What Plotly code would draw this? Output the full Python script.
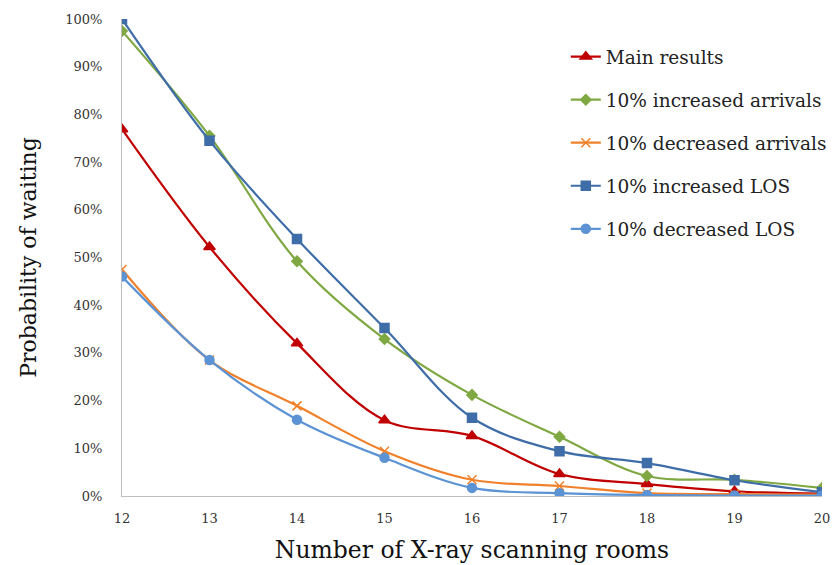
import plotly.graph_objects as go

rooms = [12, 13, 14, 15, 16, 17, 18, 19, 20]
main_results = [0.769, 0.522, 0.320, 0.159, 0.126, 0.046, 0.025, 0.010, 0.005]
inc_arrivals = [0.975, 0.755, 0.492, 0.329, 0.212, 0.124, 0.042, 0.034, 0.017]
dec_arrivals = [0.475, 0.285, 0.189, 0.094, 0.034, 0.021, 0.006, 0.004, 0.003]
inc_los = [1.000, 0.745, 0.539, 0.352, 0.164, 0.094, 0.069, 0.033, 0.008]
dec_los = [0.460, 0.285, 0.160, 0.080, 0.017, 0.006, 0.002, 0.001, 0.001]
y_ticks = [0, 0.1, 0.2, 0.3, 0.4, 0.5, 0.6, 0.7, 0.8, 0.9, 1.0]

series = [
    ("Main results", main_results, "#C00000", "triangle-up", 10),
    ("10% increased arrivals", inc_arrivals, "#7FA843", "diamond", 8),
    ("10% decreased arrivals", dec_arrivals, "#F0802A", "x-thin-open", 9),
    ("10% increased LOS", inc_los, "#3E6DA8", "square", 9),
    ("10% decreased LOS", dec_los, "#5B93D5", "circle", 9),
]

fig = go.Figure()
for i, (name, vals, col, sym, sz) in enumerate(series):
    fig.add_trace(go.Scatter(
        x=rooms, y=vals, name=name, mode="lines+markers", legendgroup=f"g{i}",
        line=dict(color=col, width=2.2, shape="spline", smoothing=1.0),
        marker=dict(symbol=sym, size=sz, color=col, line=dict(color=col, width=1.5)),
    ))

font_family = "DejaVu Serif, Liberation Serif, serif"
fig.update_layout(
    width=839, height=565,
    margin=dict(l=122, r=7, t=19, b=69),
    paper_bgcolor="white", plot_bgcolor="white",
    font=dict(family=font_family, color="#222"),
    showlegend=True,
    legend=dict(x=0.634, y=0.96, xanchor="left", yanchor="top",
                font=dict(size=18.5, family=font_family, color="#222"),
                bgcolor="rgba(0,0,0,0)", itemwidth=30, tracegroupgap=16,
                traceorder="grouped"),
    xaxis=dict(
        range=[12, 20], tickvals=rooms, showgrid=False, zeroline=False,
        showline=True, linecolor="#BFBFBF", linewidth=1, automargin=False,
        ticklabeloverflow="allow", ticklabelstandoff=10,
        tickfont=dict(size=13, family=font_family, color="#333"),
        title=dict(text="Number of X-ray scanning rooms", font=dict(size=23.5, family=font_family, color="#111"), standoff=16),
    ),
    yaxis=dict(
        range=[0, 1.0], tickvals=y_ticks, tickformat=".0%", showgrid=False, zeroline=False,
        showline=True, linecolor="#BFBFBF", linewidth=1, automargin=False,
        ticklabeloverflow="allow",
        tickfont=dict(size=13, family=font_family, color="#333"),
        ticklabelstandoff=16,
        title=dict(text="Probability of waiting", font=dict(size=22, family=font_family, color="#111"), standoff=22),
    ),
)

fig.write_html("out.html", config={"displayModeBar": False},
               post_script="document.body.style.margin='0';document.body.style.overflow='hidden';")
